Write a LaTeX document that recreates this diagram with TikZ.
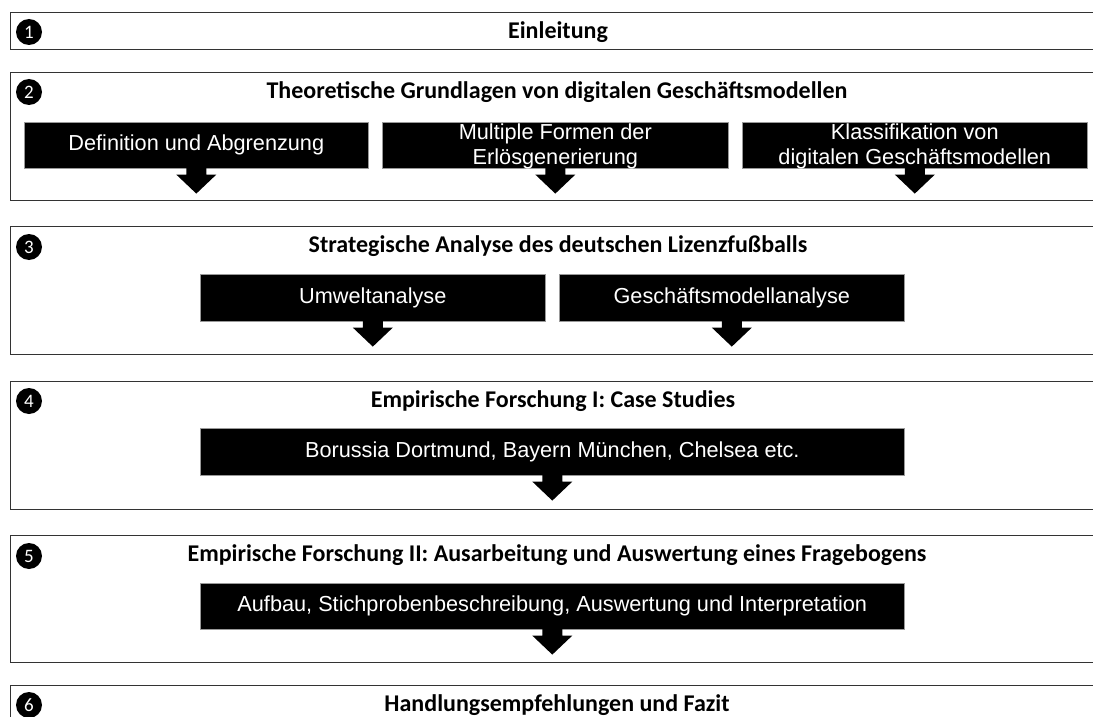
\documentclass[tikz,border=0pt]{standalone}
\usepackage{fontspec}
\setmainfont{Carlito}
\newfontfamily\arialfont{Liberation Sans}
\usetikzlibrary{calc}
\newcommand\blockarrow[1]{%
  \fill ($(#1.south)+(-10,-1)$) -- ($(#1.south)+(-10,6)$) -- ($(#1.south)+(-20,6)$)
    -- ($(#1.south)+(0,25)$) -- ($(#1.south)+(20,6)$) -- ($(#1.south)+(10,6)$)
    -- ($(#1.south)+(10,-1)$) -- cycle;}
\begin{document}
\begin{tikzpicture}[x=1pt,y=-1pt,
  sect/.style={draw=black!80, line width=1.4pt, anchor=north west, inner sep=0pt, minimum width=1090pt},
  num/.style={circle, fill=black, text=white, minimum size=26pt, inner sep=0pt, font=\fontsize{19}{19}\selectfont},
  ttl/.style={font=\bfseries\fontsize{24}{24}\selectfont, anchor=center, inner sep=0pt},
  blktext/.style={text=white, font=\arialfont\fontsize{21.7}{25}\selectfont, align=center, inner sep=0pt},
  blk/.style={fill=black, draw=black!40, line width=0.6pt, blktext,
    anchor=north west, minimum height=46pt}
]
\clip (0,0) rectangle (1093,717);
\fill[white] (0,0) rectangle (1093,717);

% section frames
\node[sect, minimum height=37pt]  (s1) at (10,12) {};
\node[sect, minimum height=128pt] (s2) at (10,72) {};
\node[sect, minimum height=128pt] (s3) at (10,226) {};
\node[sect, minimum height=128pt] (s4) at (10,381) {};
\node[sect, minimum height=127pt] (s5) at (10,535) {};
\node[sect, minimum height=60pt]  (s6) at (10,685) {};

% numbers
\node[num] (n1) at (29,32) {1};
\node[num] (n2) at (29,92) {2};
\node[num] (n3) at (29,247) {3};
\node[num] (n4) at (29,401) {4};
\node[num] (n5) at (29,556) {5};
\node[num] (n6) at (29,705) {6};

% titles
\node[ttl] (t1) at (558,32) {Einleitung};
\node[ttl] (t2) at (557,92) {Theoretische Grundlagen von digitalen Geschäftsmodellen};
\node[ttl] (t3) at (558,246) {Strategische Analyse des deutschen Lizenzfußballs};
\node[ttl] (t4) at (553,401) {Empirische Forschung I: Case Studies};
\node[ttl] (t5) at (557,555) {Empirische Forschung II: Ausarbeitung und Auswertung eines Fragebogens};
\node[ttl] (t6) at (557,705) {Handlungsempfehlungen und Fazit};

% black blocks
\node[blk, minimum width=344pt] (b21) at (24,122) {Definition und Abgrenzung};
\node[blk, minimum width=346pt] (b22) at (382,122) {};
\node[blk, minimum width=345pt] (b23) at (742,122) {};
\node[blk, minimum width=345pt, minimum height=47pt] (b31) at (200,274) {Umweltanalyse};
\node[blk, minimum width=345pt, minimum height=47pt] (b32) at (559,274) {Geschäftsmodellanalyse};
\node[blk, minimum width=704pt, minimum height=47pt] (b41) at (200,428) {Borussia Dortmund, Bayern München, Chelsea etc.};
\node[blk, minimum width=704pt] (b51) at (200,583) {Aufbau, Stichprobenbeschreibung, Auswertung und Interpretation};

% block arrows
\blockarrow{b21}
\blockarrow{b22}
\blockarrow{b23}
\blockarrow{b31}
\blockarrow{b32}
\blockarrow{b41}
\blockarrow{b51}

% two-line block texts
\node[blktext] (b22t) at ($(b22.center)+(0,1.5)$) {Multiple Formen der\\Erlösgenerierung};
\node[blktext] (b23t) at ($(b23.center)+(0,1.5)$) {Klassifikation von\\digitalen Geschäftsmodellen};
\end{tikzpicture}
\end{document}
